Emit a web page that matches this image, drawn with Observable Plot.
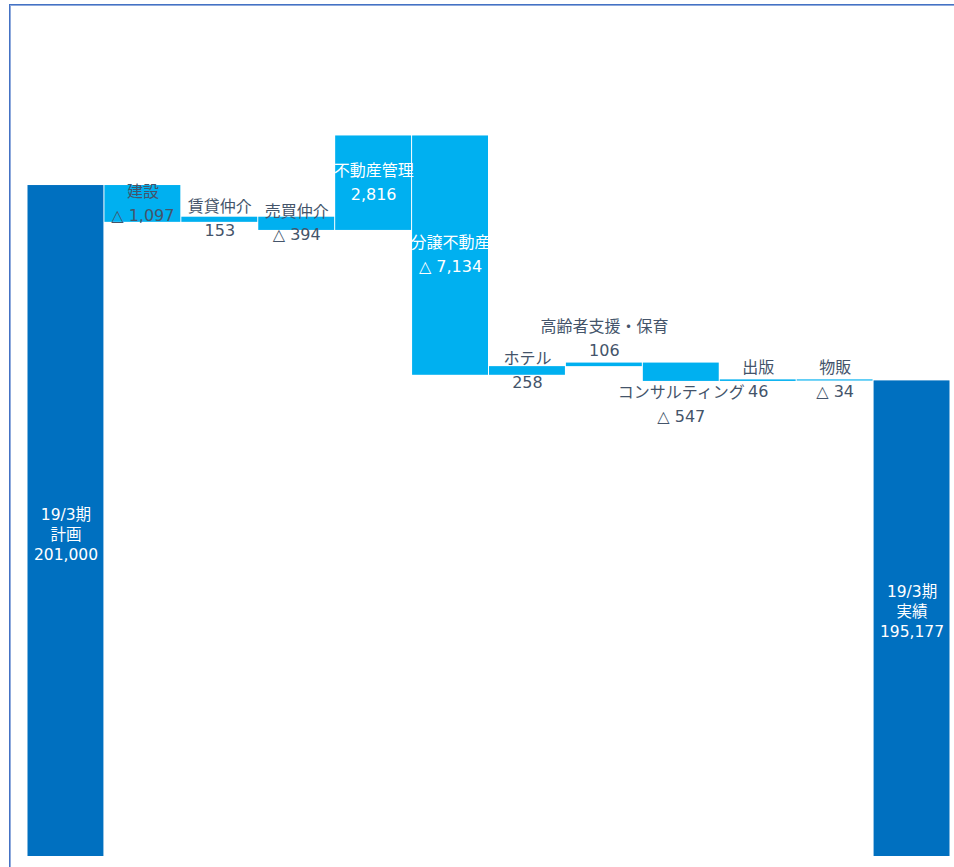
<!DOCTYPE html>
<html><head><meta charset="utf-8">
<script src="https://cdn.jsdelivr.net/npm/d3@7"></script>
<script src="https://cdn.jsdelivr.net/npm/@observablehq/plot@0.6"></script>
<style>
body{margin:0;background:#fff;}
#wrap{position:relative;width:954px;height:867px;overflow:hidden;}
#wrap svg{position:absolute;left:0;top:0;}
#frame{position:absolute;left:9px;top:4px;right:-10px;bottom:-10px;border-top:1px solid #4472C4;border-left:1px solid #4472C4;box-shadow:inset 1px 1px 0 #8FAADC;pointer-events:none;}
</style></head><body><div id="wrap"><div id="frame"></div></div>
<script>
const categories = ["19/3期\n計画", "建設", "賃貸仲介", "売買仲介", "不動産管理", "分譲不動産", "ホテル", "高齢者支援・保育", "コンサルティング", "出版", "物販", "19/3期\n実績"];
const values = [201000, -1097, 153, -394, 2816, -7134, 258, 106, -547, 46, -34, 195177];
const kinds = ["total", "delta", "delta", "delta", "delta", "delta", "delta", "delta", "delta", "delta", "delta", "total"];

const yMin = 181000, yMax = 206000;
const fmt = v => v < 0 ? "△ " + d3.format(",")(-v) : d3.format(",")(v);

let run = 0;
const rows = categories.map((c, i) => {
  let y1, y2;
  if (kinds[i] === "total") { y1 = yMin; y2 = values[i]; run = values[i]; }
  else { y1 = run; y2 = run + values[i]; run = y2; }
  return {cat: c, kind: kinds[i], y1, y2, mid: (y1 + y2) / 2, label: c + "\n" + fmt(values[i])};
});

const whiteLabels = new Set(["19/3期\n計画", "不動産管理", "分譲不動産", "19/3期\n実績"]);
const labelDy = {"19/3期\n計画": 13, "高齢者支援・保育": -29, "コンサルティング": 30, "19/3期\n実績": -8};
const deltaShift = -3;

const font = "'DejaVu Sans', 'Noto Sans CJK JP', sans-serif";
const textMarks = [];
const dyOf = d => labelDy[d.cat] ?? (d.kind === "delta" ? deltaShift : 0);
const groups = d3.group(rows, d => dyOf(d) + "|" + (whiteLabels.has(d.cat) ? "w" : "d") + "|" + d.kind);
for (const [key, data] of groups) {
  const [dy, col, kind] = key.split("|");
  textMarks.push(Plot.text(data, {
    x: "cat", y: "mid", text: "label", dy: +dy,
    fill: col === "w" ? "white" : "#44546A",
    fontSize: kind === "total" ? 15.5 : 16,
    lineHeight: kind === "total" ? 20 / 15.5 : 1.5,
    lineAnchor: "middle", textAnchor: "middle"
  }));
}

const chart = Plot.plot({
  width: 954, height: 867,
  marginTop: 17.3, marginBottom: 11, marginLeft: 27, marginRight: 4,
  style: {fontFamily: font, background: "transparent"},
  x: {domain: categories, padding: 0, round: false, axis: null},
  y: {domain: [yMin, yMax], axis: null},
  marks: [
    Plot.barY(rows, {x: "cat", y1: "y1", y2: "y2", fill: d => d.kind === "total" ? "#0070C0" : "#00B0F0", insetLeft: 0.5, insetRight: 0.5}),
    ...textMarks
  ]
});
document.getElementById("wrap").prepend(chart);
</script>
</body></html>
